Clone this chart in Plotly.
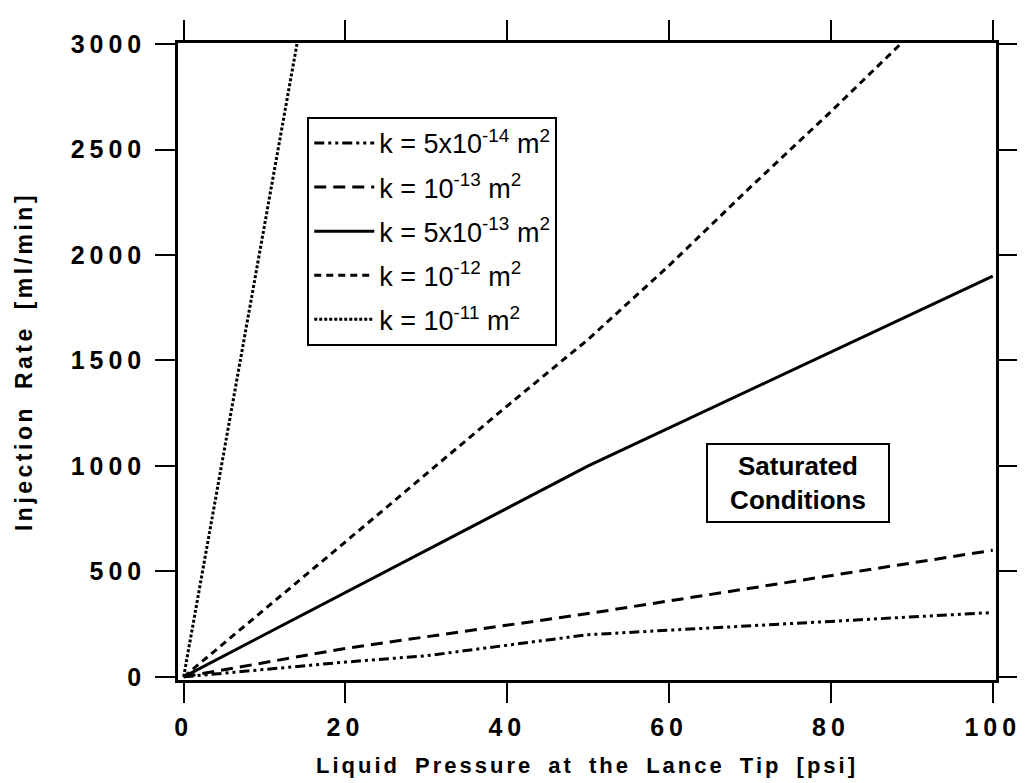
import plotly.graph_objects as go

# Data
labels = [
    "k = 5x10<sup>-14</sup> m<sup>2</sup>",
    "k = 10<sup>-13</sup> m<sup>2</sup>",
    "k = 5x10<sup>-13</sup> m<sup>2</sup>",
    "k = 10<sup>-12</sup> m<sup>2</sup>",
    "k = 10<sup>-11</sup> m<sup>2</sup>",
]
x_5e14 = [0, 20, 30, 40, 50, 100]
y_5e14 = [0, 70, 100, 150, 200, 305]
x_1e13 = [0, 20, 50, 100]
y_1e13 = [0, 135, 300, 600]
x_5e13 = [0, 50, 100]
y_5e13 = [0, 1000, 1900]
x_1e12 = [0, 20, 40, 50, 60, 70, 80, 88.6]
y_1e12 = [0, 640, 1285, 1600, 1950, 2320, 2680, 3000]
x_1e11 = [0, 14]
y_1e11 = [0, 3000]

x_ticks = [0, 20, 40, 60, 80, 100]
y_ticks = [0, 500, 1000, 1500, 2000, 2500, 3000]

series = [
    (x_5e14, y_5e14, "10px,4px,3px,4px,3px,4px"),
    (x_1e13, y_1e13, "12px,7px"),
    (x_5e13, y_5e13, "solid"),
    (x_1e12, y_1e12, "7px,5px"),
    (x_1e11, y_1e11, "3px,2px"),
]

SP = '<span style="letter-spacing:5px">{}</span>'

fig = go.Figure()
for i, ((xs, ys, dash), name) in enumerate(zip(series, labels)):
    fig.add_trace(go.Scatter(x=xs, y=ys, mode="lines", name=name,
                             legendgroup=f"g{i}",
                             line=dict(color="black", width=3, dash=dash)))

axis_common = dict(
    showline=True, linecolor="black", linewidth=2.5, mirror="ticks",
    ticks="outside", ticklen=20, tickwidth=2, tickcolor="black",
    showgrid=False, zeroline=False,
    tickfont=dict(family="Liberation Sans", size=25, color="black", weight="bold"),
)

fig.update_xaxes(range=[-0.7, 100.4], tickvals=x_ticks,
                 ticktext=[SP.format(v) for v in x_ticks],
                 ticklabelstandoff=3,
                 title=dict(text='<b><span style="letter-spacing:3px;word-spacing:6px">'
                                 'Liquid Pressure at the Lance Tip [psi]</span></b>',
                            font=dict(family="Liberation Sans", size=22, color="black"),
                            standoff=18),
                 **axis_common)
fig.update_yaxes(range=[-15, 3005], tickvals=y_ticks,
                 ticktext=[SP.format(v) for v in y_ticks],
                 ticklabelstandoff=4,
                 title=dict(text='<b><span style="letter-spacing:3.5px;word-spacing:6px">'
                                 'Injection Rate [ml/min]</span></b>',
                            font=dict(family="Liberation Sans", size=23, color="black"),
                            standoff=32),
                 **axis_common)

fig.add_annotation(x=75.9, y=920, xref="x", yref="y",
                   text="<b>Saturated<br>Conditions</b>", showarrow=False,
                   font=dict(family="Liberation Sans", size=26, color="black"),
                   width=168, height=64,
                   bordercolor="black", borderwidth=2, borderpad=6,
                   bgcolor="white", align="center", valign="middle")

fig.update_layout(
    width=1025, height=783,
    margin=dict(l=170, r=32, t=33, b=111),
    plot_bgcolor="white", paper_bgcolor="white",
    showlegend=True,
    legend=dict(x=0.158, y=0.884, xanchor="left", yanchor="top",
                bgcolor="white", bordercolor="black", borderwidth=2,
                font=dict(family="Liberation Sans", size=27, color="black"),
                tracegroupgap=6, itemwidth=60),
)

fig.write_html("out.html")
